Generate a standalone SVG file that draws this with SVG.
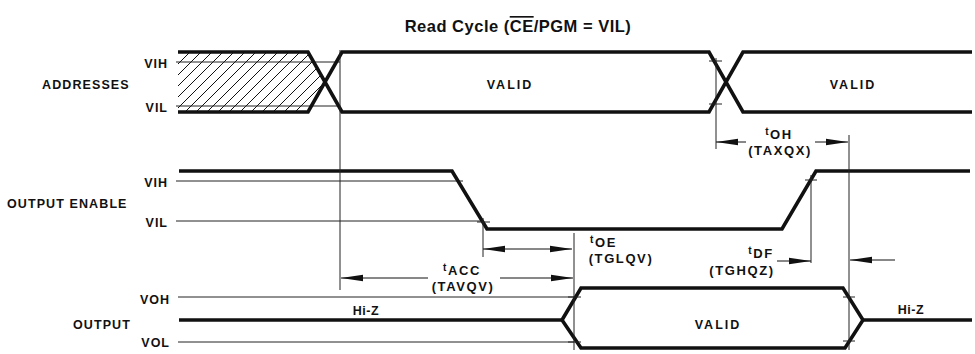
<svg xmlns="http://www.w3.org/2000/svg" width="975" height="354" viewBox="0 0 975 354">
<style>
  text { font-family: "Liberation Sans", Arial, sans-serif; font-weight: bold; fill: #111; }
  .lbl { font-size: 12.5px; letter-spacing: 1.1px; }
  .lvl { font-size: 12.5px; letter-spacing: 1px; text-anchor: end; }
  .tm { font-size: 13px; letter-spacing: 1.6px; text-anchor: middle; }
  .val { font-size: 12.5px; letter-spacing: 2px; text-anchor: middle; }
  .title { font-size: 16.5px; letter-spacing: 0.5px; text-anchor: middle; }
  .thick { fill: none; stroke: #111; stroke-width: 3.6; stroke-linejoin: miter; }
  .thin { fill: none; stroke: #222; stroke-width: 1; }
  .arr { fill: none; stroke: #111; stroke-width: 1; marker-end: url(#ah); }
  .arr2 { fill: none; stroke: #111; stroke-width: 1; marker-end: url(#ah); marker-start: url(#ah); }
</style>
<defs>
  <marker id="ah" markerUnits="userSpaceOnUse" markerWidth="22" markerHeight="8" refX="22" refY="4" orient="auto-start-reverse">
    <path d="M0,0.8 L22,4 L0,7.2 Z" fill="#111"/>
  </marker>
  <pattern id="hatch" patternUnits="userSpaceOnUse" width="11" height="11">
    <path d="M-1,12 L12,-1 M-4,4 L4,-4 M7,15 L15,7" stroke="#111" stroke-width="1"/>
  </pattern>
</defs>
<rect width="975" height="354" fill="#fff"/>

<g id="title">
  <text class="title" x="518" y="32">Read Cycle (<tspan style="text-decoration:overline">CE</tspan>/PGM = VIL)</text>
</g>

<g id="addresses">
  <text class="lbl" x="42" y="89">ADDRESSES</text>
  <text class="lvl" x="168" y="68">VIH</text>
  <text class="lvl" x="168" y="112">VIL</text>
  <polygon points="178,52 308,52 325,82 308,112 178,112" fill="url(#hatch)"/>
  <line class="thin" x1="176" y1="62" x2="340" y2="62"/>
  <line class="thin" x1="176" y1="106" x2="340" y2="106"/>
  <polyline class="thick" points="178,52 308,52 342,112 709,112 743,52 972,52"/>
  <polyline class="thick" points="178,112 308,112 342,52 709,52 743,112 972,112"/>
  <text class="val" x="510" y="89">VALID</text>
  <text class="val" x="853" y="89">VALID</text>
</g>

<g id="output-enable">
  <text class="lbl" x="7" y="208">OUTPUT ENABLE</text>
  <text class="lvl" x="168" y="187">VIH</text>
  <text class="lvl" x="168" y="227">VIL</text>
  <line class="thin" x1="176" y1="181" x2="463" y2="181"/>
  <line class="thin" x1="176" y1="221" x2="484" y2="221"/>
  <polyline class="thick" points="179,171 452,171 487,229 782,229 816,171 970,171"/>
</g>

<g id="output">
  <text class="lbl" x="73" y="329">OUTPUT</text>
  <text class="lvl" x="170" y="304">VOH</text>
  <text class="lvl" x="170" y="347">VOL</text>
  <line class="thin" x1="178" y1="297" x2="574" y2="297"/>
  <line class="thin" x1="178" y1="342" x2="574" y2="342"/>
  <polyline class="thick" points="179,320 562,320"/>
  <polygon class="thick" points="562,320 581,288 843,288 863,320 845,348 581,348"/>
  <polyline class="thick" points="863,320 972,320"/>
  <text class="lbl" x="366" y="315" text-anchor="middle" style="letter-spacing:0.5px">Hi-Z</text>
  <text class="lbl" x="911" y="314" text-anchor="middle" style="letter-spacing:0.5px">Hi-Z</text>
  <text class="val" x="718" y="329">VALID</text>
</g>

<g id="timing-labels">
  <text class="tm" x="779" y="139"><tspan font-size="10" dy="-4">t</tspan><tspan dy="4">OH</tspan></text>
  <text class="tm" x="780" y="155">(TAXQX)</text>
  <text class="tm" x="590" y="247" style="text-anchor:start"><tspan font-size="10" dy="-4">t</tspan><tspan dy="4">OE</tspan></text>
  <text class="tm" x="621" y="263">(TGLQV)</text>
  <text class="tm" x="462" y="275"><tspan font-size="10" dy="-4">t</tspan><tspan dy="4">ACC</tspan></text>
  <text class="tm" x="463" y="291">(TAVQV)</text>
  <text class="tm" x="761" y="258"><tspan font-size="10" dy="-4">t</tspan><tspan dy="4">DF</tspan></text>
  <text class="tm" x="742" y="275">(TGHQZ)</text>
</g>

<g id="connectors">
  <line class="thin" x1="340" y1="50" x2="340" y2="290"/>
  <line class="thin" x1="716" y1="58" x2="716" y2="149"/>
  <line class="thin" x1="709" y1="61" x2="722" y2="61"/>
  <line class="thin" x1="709" y1="104" x2="722" y2="104"/>
  <line class="thin" x1="483" y1="218" x2="483" y2="257"/>
  <line class="thin" x1="477" y1="222" x2="490" y2="222"/>
  <line class="thin" x1="574" y1="233" x2="574" y2="350"/>
  <line class="thin" x1="568" y1="297" x2="581" y2="297"/>
  <line class="thin" x1="568" y1="342" x2="581" y2="342"/>
  <line class="thin" x1="811" y1="175" x2="811" y2="263"/>
  <line class="thin" x1="805" y1="180" x2="817" y2="180"/>
  <line class="thin" x1="849" y1="135" x2="849" y2="350"/>
  <line class="thin" x1="843" y1="297" x2="855" y2="297"/>
  <line class="thin" x1="843" y1="341" x2="855" y2="341"/>
  <line class="arr" x1="746" y1="142" x2="716" y2="142"/>
  <line class="arr" x1="815" y1="142" x2="848" y2="142"/>
  <line class="arr2" x1="483" y1="249" x2="572" y2="249"/>
  <line class="arr" x1="428" y1="278" x2="341" y2="278"/>
  <line class="arr" x1="500" y1="278" x2="573" y2="278"/>
  <line class="arr" x1="777" y1="261" x2="811" y2="261"/>
  <line class="arr" x1="895" y1="260" x2="850" y2="260"/>
</g>
</svg>
